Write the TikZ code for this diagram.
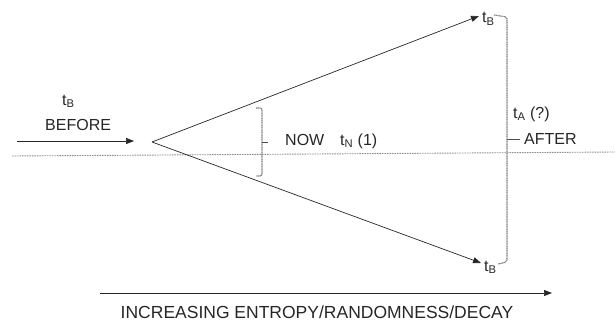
\documentclass[tikz,border=0pt]{standalone}
\usepackage{fontspec}
\setmainfont{Liberation Sans}
\usetikzlibrary{arrows.meta}

\begin{document}
\begin{tikzpicture}[x=1pt, y=-1pt,
  every node/.style={font=\fontsize{16}{19}\selectfont, inner sep=0pt, text=black!85},
  timearrow/.style={-{Triangle[length=8pt,width=6pt]}, black!85, line width=0.7pt},
  dotline/.style={gray!90, dash pattern=on 1.5pt off 1pt, line width=0.9pt},
  bracketline/.style={gray, dash pattern=on 1.2pt off 0.5pt, line width=1.1pt, rounded corners=2pt},
  bracketick/.style={black!70, line width=0.8pt},
]
  \useasboundingbox (0,0) rectangle (615,329);

  % Present line through the cone
  \coordinate (lineL) at (12,156);
  \coordinate (lineR) at (615,152);
  \draw[dotline] (lineL) -- (lineR);

  % Before
  \node[anchor=base west] (tbefore) at (62,105) {t\textsubscript{B}};
  \node[anchor=base west] (before) at (45,130) {BEFORE};
  \coordinate (bstart) at (17,141);
  \coordinate (bend) at (134,141);
  \draw[timearrow] (bstart) -- (bend);

  % The cone
  \coordinate (apex) at (152,142);
  \coordinate (uptip) at (479,16);
  \coordinate (lowtip) at (481,263);
  \draw[timearrow] (apex) -- (uptip);
  \draw[timearrow] (apex) -- (lowtip);
  \node[anchor=base west] (tbup) at (482,23) {t\textsubscript{B}};
  \node[anchor=base west] (tblow) at (484,271) {t\textsubscript{B}};

  % Now
  \draw[bracketline] (256,108) -- (262,108) -- (262,176) -- (256,176);
  \draw[bracketick] (262,142) -- (268,142);
  \node[anchor=base west] (now) at (285,145) {NOW};
  \node[anchor=base west] (tnow) at (340,145) {t\textsubscript{N} (1)};

  % After
  \draw[bracketline] (494,15) -- (507,17) -- (507,262) -- (498,264);
  \draw[bracketick] (507,139) -- (520,139);
  \node[anchor=base west] (tafter) at (513,118) {t\textsubscript{A} (?)};
  \node[anchor=base west] (after) at (524,144) {AFTER};

  % Entropy axis
  \coordinate (estart) at (100,293);
  \coordinate (eend) at (552,293);
  \draw[timearrow] (estart) -- (eend);
  \node[anchor=base, font=\fontsize{17.5}{20}\selectfont] (entropy) at (317,318) {INCREASING ENTROPY/RANDOMNESS/DECAY};
\end{tikzpicture}
\end{document}
